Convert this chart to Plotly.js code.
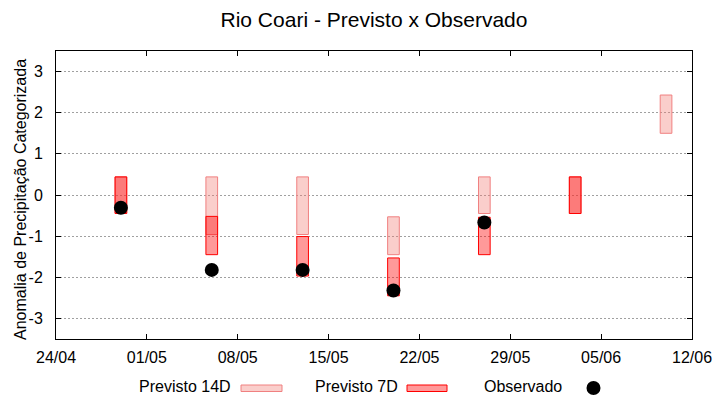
<!DOCTYPE html>
<html>
<head>
<meta charset="utf-8">
<script src="https://cdn.plot.ly/plotly-3.0.1.min.js"></script>
<style>html,body{margin:0;padding:0;background:#fff}#chart{width:720px;height:400px}</style>
</head>
<body>
<div id="chart"></div>
<script>
// ---- data ----
var dates14 = ['2023-04-29','2023-05-06','2023-05-13','2023-05-20','2023-05-27','2023-06-03','2023-06-10'];
var prev14Low  = [-0.44, -0.96, -0.96, -1.45, -0.45, -0.45, 1.50];
var prev14High = [ 0.44,  0.44,  0.44, -0.53,  0.44,  0.44, 2.43];

var dates7 = ['2023-04-29','2023-05-06','2023-05-13','2023-05-20','2023-05-27','2023-06-03'];
var prev7Low  = [-0.45, -1.45, -1.97, -2.45, -1.45, -0.45];
var prev7High = [ 0.44, -0.52, -1.01, -1.53, -0.54,  0.44];

var datesObs = ['2023-04-29','2023-05-06','2023-05-13','2023-05-20','2023-05-27'];
var observado = [-0.31, -1.82, -1.82, -2.32, -0.67];

var yTickVals = [-3, -2, -1, 0, 1, 2, 3];
var yTickText = ['-3', '-2', '-1', '0', '1', '2', '3'];
var xTickVals = ['2023-04-24','2023-05-01','2023-05-08','2023-05-15','2023-05-22','2023-05-29','2023-06-05','2023-06-12'];
var xTickText = ['24/04','01/05','08/05','15/05','22/05','29/05','05/06','12/06'];

// ---- layout helpers ----
var W = 720, H = 400, L = 56, R = 28, T = 51, B = 61;
function px(x){ return (x - L) / (W - L - R); }
function py(y){ return (H - B - y) / (H - T - B); }
var DAY = 86400000;
var FONT = 'Liberation Sans, Arial, sans-serif';

function diff(hi, lo){ return hi.map(function(v, i){ return v - lo[i]; }); }

var c14Fill = 'rgba(242,120,112,0.36)', c14Line = '#f08080';
var c7Fill = 'rgba(255,0,0,0.4)', c7Line = '#ff0000';

var traces = [
  {
    type: 'bar', name: 'Previsto 14D', x: dates14, base: prev14Low, y: diff(prev14High, prev14Low),
    width: 0.9 * DAY, marker: {color: c14Fill, line: {color: c14Line, width: 1}}, showlegend: false, hoverinfo: 'skip'
  },
  {
    type: 'bar', name: 'Previsto 7D', x: dates7, base: prev7Low, y: diff(prev7High, prev7Low),
    width: 0.9 * DAY, marker: {color: c7Fill, line: {color: c7Line, width: 1}}, showlegend: false, hoverinfo: 'skip'
  },
  {
    type: 'scatter', mode: 'markers', name: 'Observado', x: datesObs, y: observado,
    marker: {color: '#000', size: 14, symbol: 'circle'}, showlegend: false, hoverinfo: 'skip'
  }
];

var layout = {
  width: W, height: H,
  margin: {l: L, r: R, t: T, b: B, pad: 0},
  paper_bgcolor: '#fff', plot_bgcolor: '#fff',
  barmode: 'overlay',
  font: {family: FONT, size: 16, color: '#000'},
  title: {text: 'Rio Coari - Previsto x Observado', font: {family: FONT, size: 21, color: '#000'},
          x: 0.5, xref: 'paper', xanchor: 'center', y: 1 - 20 / H, yref: 'container', yanchor: 'middle'},
  xaxis: {
    type: 'date', range: ['2023-04-24', '2023-06-12'],
    tickmode: 'array', tickvals: xTickVals, ticktext: xTickText,
    ticks: 'inside', ticklen: 5, tickcolor: '#000', tickwidth: 1,
    showline: true, linecolor: '#000', linewidth: 1, mirror: 'ticks',
    showgrid: false, zeroline: false,
    tickfont: {family: FONT, size: 16, color: '#000'}, ticklabelstandoff: 4
  },
  yaxis: {
    range: [-3.5, 3.5],
    tickmode: 'array', tickvals: yTickVals, ticktext: yTickText,
    ticks: 'inside', ticklen: 5, tickcolor: '#000', tickwidth: 1,
    showline: true, linecolor: '#000', linewidth: 1, mirror: 'ticks',
    showgrid: true, gridcolor: '#a0a0a0', gridwidth: 1, griddash: '2px,2px', zeroline: false,
    tickfont: {family: FONT, size: 16, color: '#000'}, ticklabelstandoff: 9
  },
  annotations: [
    {text: 'Anomalia de Precipitação Categorizada', textangle: -90, xref: 'paper', yref: 'paper',
     x: px(20), y: py(200), xanchor: 'center', yanchor: 'middle', showarrow: false,
     font: {family: FONT, size: 16, color: '#000'}},
    {text: 'Previsto 14D', xref: 'paper', yref: 'paper', x: px(233), y: py(386.5), xanchor: 'right', yanchor: 'middle',
     showarrow: false, font: {family: FONT, size: 16, color: '#000'}},
    {text: 'Previsto 7D', xref: 'paper', yref: 'paper', x: px(400), y: py(386.5), xanchor: 'right', yanchor: 'middle',
     showarrow: false, font: {family: FONT, size: 16, color: '#000'}},
    {text: 'Observado', xref: 'paper', yref: 'paper', x: px(564), y: py(386.5), xanchor: 'right', yanchor: 'middle',
     showarrow: false, font: {family: FONT, size: 16, color: '#000'}}
  ],
  shapes: [
    {type: 'rect', xref: 'paper', yref: 'paper', x0: px(241), x1: px(282), y0: py(391.5), y1: py(385),
     fillcolor: c14Fill, line: {color: c14Line, width: 1}},
    {type: 'rect', xref: 'paper', yref: 'paper', x0: px(407), x1: px(447), y0: py(391.5), y1: py(385),
     fillcolor: c7Fill, line: {color: c7Line, width: 1}},
    {type: 'circle', xref: 'paper', yref: 'paper', x0: px(586.5), x1: px(600.5), y0: py(395), y1: py(381),
     fillcolor: '#000', line: {color: '#000', width: 0}}
  ]
};

Plotly.newPlot('chart', traces, layout, {staticPlot: true, displayModeBar: false});
</script>
</body>
</html>
